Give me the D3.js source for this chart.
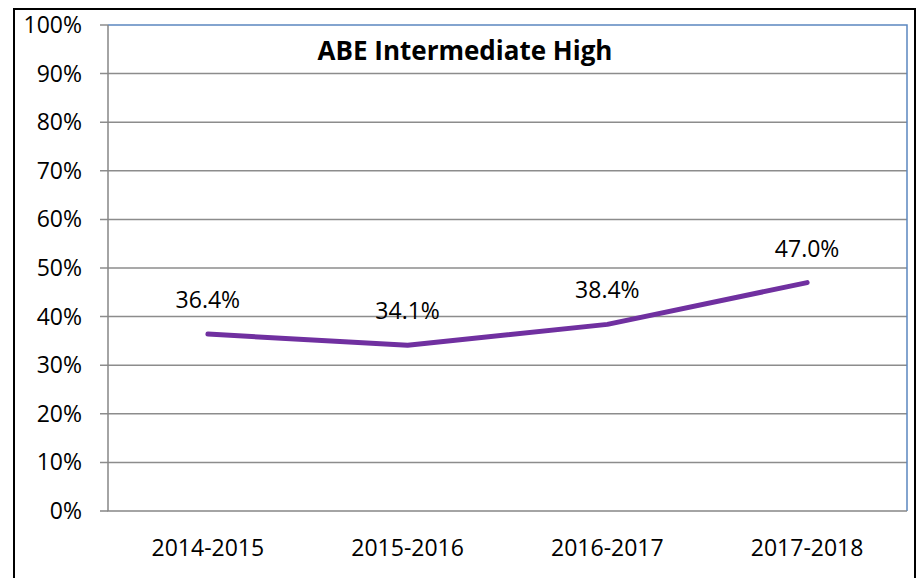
<!DOCTYPE html>
<html>
<head>
<meta charset="utf-8">
<script src="https://cdn.jsdelivr.net/npm/d3@7"></script>
<style>
  body { margin: 0; background: #fff; }
  svg { display: block; }
</style>
</head>
<body>
<div id="chart"></div>
<script>
// data
const years = ["2014-2015", "2015-2016", "2016-2017", "2017-2018"];
const rates = [36.4, 34.1, 38.4, 47.0];
const yTicks = [0, 10, 20, 30, 40, 50, 60, 70, 80, 90, 100];
const title = "ABE Intermediate High";

const width = 917, height = 578;
const margin = {top: 25, right: 10, bottom: 67, left: 108};

const svg = d3.select("#chart").append("svg")
    .attr("width", width)
    .attr("height", height)
    .style("font-family", "'Open Sans', 'Liberation Sans', sans-serif");

// outer frame
svg.append("rect")
    .attr("x", 14).attr("y", 9)
    .attr("width", 901).attr("height", 620)
    .attr("fill", "none")
    .attr("stroke", "#000")
    .attr("stroke-width", 2);

const x = d3.scaleBand(years, [margin.left, width - margin.right]);
const y = d3.scaleLinear([0, 100], [height - margin.bottom, margin.top]);

// gridlines
svg.append("g")
    .selectAll("line")
    .data(yTicks.filter(t => t > 0 && t < 100))
    .join("line")
        .attr("x1", margin.left - 8)
        .attr("x2", width - margin.right)
        .attr("y1", d => y(d))
        .attr("y2", d => y(d))
        .attr("stroke", "#8c8c8c")
        .attr("stroke-width", 1.5);

// plot border (top/right blue-ish)
svg.append("path")
    .attr("d", `M${margin.left},${y(100)}H${width - margin.right}V${y(0)}`)
    .attr("fill", "none")
    .attr("stroke", "#5b87c0")
    .attr("stroke-width", 1.5);
svg.append("line")
    .attr("x1", margin.left - 8).attr("x2", margin.left)
    .attr("y1", y(100)).attr("y2", y(100))
    .attr("stroke", "#8c8c8c").attr("stroke-width", 1.5);

// axes (gray)
svg.append("path")
    .attr("d", `M${margin.left},${y(100)}V${y(0)}H${width - margin.right}`)
    .attr("fill", "none")
    .attr("stroke", "#868686")
    .attr("stroke-width", 1.5);
svg.append("line")
    .attr("x1", margin.left - 8).attr("x2", margin.left)
    .attr("y1", y(0)).attr("y2", y(0))
    .attr("stroke", "#868686").attr("stroke-width", 1.5);

// y labels
svg.append("g")
    .selectAll("text")
    .data(yTicks)
    .join("text")
        .attr("x", 82)
        .attr("y", d => y(d) + 8)
        .attr("text-anchor", "end")
        .attr("font-size", 23)
        .attr("fill", "#000")
        .text(d => d + "%");

// x labels
svg.append("g")
    .selectAll("text")
    .data(years)
    .join("text")
        .attr("x", d => x(d) + x.bandwidth() / 2)
        .attr("y", y(0) + 45)
        .attr("text-anchor", "middle")
        .attr("font-size", 23)
        .attr("fill", "#000")
        .text(d => d);

// line
const line = d3.line()
    .x((d, i) => x(years[i]) + x.bandwidth() / 2)
    .y(d => y(d));

svg.append("path")
    .datum(rates)
    .attr("d", line)
    .attr("fill", "none")
    .attr("stroke", "#7030a0")
    .attr("stroke-width", 5)
    .attr("stroke-linecap", "round")
    .attr("stroke-linejoin", "round");

// value labels
svg.append("g")
    .selectAll("text")
    .data(rates)
    .join("text")
        .attr("x", (d, i) => x(years[i]) + x.bandwidth() / 2)
        .attr("y", d => y(d) - 26)
        .attr("text-anchor", "middle")
        .attr("font-size", 23)
        .attr("fill", "#000")
        .text(d => d.toFixed(1) + "%");

// title
svg.append("text")
    .attr("x", 465)
    .attr("y", 60)
    .attr("text-anchor", "middle")
    .attr("font-size", 26)
    .attr("font-weight", "bold")
    .text(title);
</script>
</body>
</html>
